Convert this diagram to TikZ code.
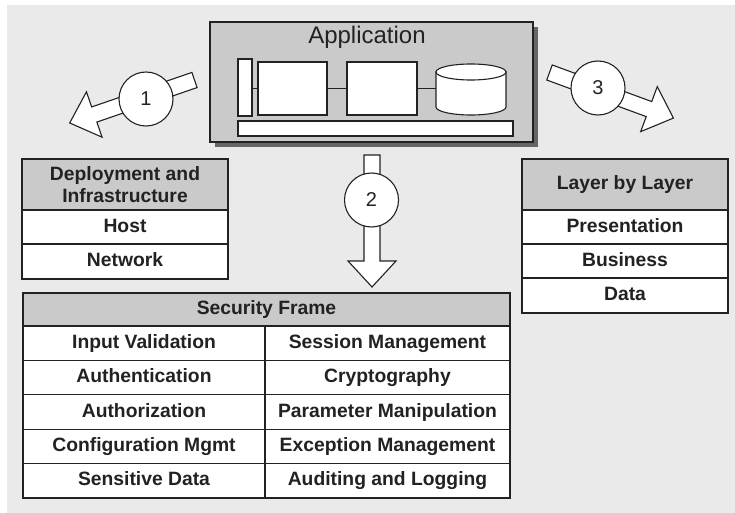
\documentclass[tikz,border=0pt]{standalone}
\usepackage{fontspec}
\setmainfont{Liberation Sans}
\usetikzlibrary{shadows}

\definecolor{bggray}{HTML}{EAEAEA}
\definecolor{boxgray}{HTML}{CACACA}
\definecolor{inkgray}{HTML}{222222}

\tikzset{
  cellbase/.style={draw=inkgray, fill=white, line width=1.2pt, inner sep=0pt,
    text=inkgray, font=\fontsize{19.3}{22}\selectfont\bfseries,
    drop shadow={shadow xshift=1.3pt, shadow yshift=-1.3pt, fill=black!50, opacity=1}},
  cell/.style={cellbase, text height=14pt, text depth=4pt},
  headcell/.style={cell, fill=boxgray},
  part/.style={draw=inkgray, fill=white, line width=1.1pt, inner sep=0pt},
  numcircle/.style={circle, draw=inkgray, fill=white, line width=1.1pt,
    minimum size=54pt, inner sep=0pt, font=\fontsize{20}{20}\selectfont, text=inkgray},
  fatarrow/.pic={
    \draw[draw=inkgray, fill=white, line width=1.1pt]
      (0,-8) -- (106,-8) -- (106,-24) -- (132,0) -- (106,24) -- (106,8) -- (0,8) -- cycle;
  },
}

\begin{document}
\begin{tikzpicture}[x=1pt,y=-1pt]
  \useasboundingbox (0,0) rectangle (735,513);
  \fill[bggray] (7,5) rectangle (735,513);

  % the application block
  \node[draw=inkgray, fill=boxgray, line width=1.2pt, minimum width=323pt, minimum height=120pt,
    drop shadow={shadow xshift=5pt, shadow yshift=-5pt, fill=black!60, opacity=1}] (app) at (371.5,82) {};
  \node[font=\fontsize{24}{24}\selectfont, text=inkgray] (app-title) at (367,37) {Application};
  \begin{scope}
    \node[part, minimum width=14pt, minimum height=57pt] (bar) at (245,87.5) {};
    \node[part, minimum width=69pt, minimum height=53pt] (comp1) at (292.5,88.5) {};
    \node[part, minimum width=70pt, minimum height=53pt] (comp2) at (382,88.5) {};
    \node[part, minimum width=275pt, minimum height=15pt] (bus) at (375.5,128.5) {};
    % data store
    \coordinate (store) at (436,88.5);
    \draw[part] (436,72) -- (436,107) arc[start angle=180, end angle=0, x radius=35, y radius=8]
      -- (506,72) -- cycle;
    \draw[part] (471,72) ellipse [x radius=35, y radius=8];
    \draw[inkgray, line width=1.1pt] (bar.east |- comp1.west) -- (comp1.west)
      (comp1.east) -- (comp2.west) (comp2.east) -- (store);
  \end{scope}

  % the three ways in
  \pic[rotate=199] at (194.5,80) {fatarrow};
  \pic[rotate=-90] at (372,155) {fatarrow};
  \pic[rotate=-20.2] at (549.5,72.5) {fatarrow};
  \node[numcircle] (num1) at (146,99) {1};
  \node[numcircle] (num2) at (371.5,200) {2};
  \node[numcircle] (num3) at (598,88) {3};

  % deployment and infrastructure
  \node[cellbase, fill=boxgray, align=center, minimum width=206pt, minimum height=51pt] (dep-head) at (125,184.5) {Deployment and\\Infrastructure};
  \node[cell, minimum width=206pt, minimum height=34pt] (dep-host) at (125,227) {Host};
  \node[cell, minimum width=206pt, minimum height=35pt] (dep-net) at (125,261.5) {Network};

  % layer by layer
  \node[headcell, minimum width=206pt, minimum height=51pt] (lay-head) at (625,184.5) {Layer by Layer};
  \node[cell, minimum width=206pt, minimum height=34pt] (lay-pres) at (625,227) {Presentation};
  \node[cell, minimum width=206pt, minimum height=34pt] (lay-bus) at (625,261) {Business};
  \node[cell, minimum width=206pt, minimum height=35pt] (lay-data) at (625,295.5) {Data};

  % security frame
  \node[headcell, minimum width=487pt, minimum height=33pt] (sec-head) at (266.5,309.5) {Security Frame};
  \foreach \lname/\rname [count=\i] in {Input Validation/Session Management,
      Authentication/Cryptography, Authorization/Parameter Manipulation,
      Configuration Mgmt/Exception Management, Sensitive Data/Auditing and Logging} {
    \node[cell, minimum width=242pt, minimum height=34.4pt] (sec-l\i) at (144,{326+34.4*\i-17.2}) {\lname};
    \node[cell, minimum width=245pt, minimum height=34.4pt] (sec-r\i) at (387.5,{326+34.4*\i-17.2}) {\rname};
  }
\end{tikzpicture}
\end{document}
